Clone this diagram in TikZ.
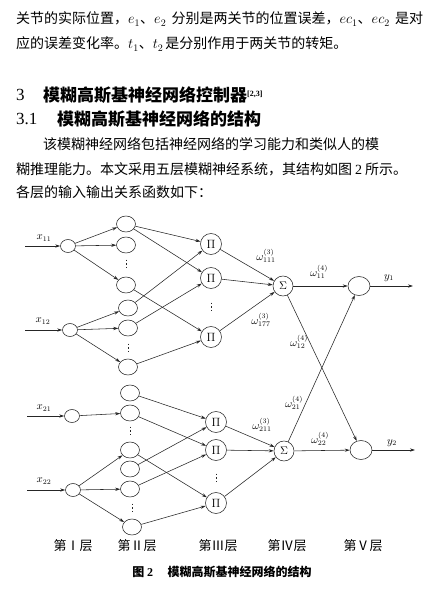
\documentclass[tikz,border=0pt]{standalone}
\usepackage{fontspec}
\setmainfont{Liberation Serif}
\newfontfamily\zh{Noto Sans CJK SC}
\usetikzlibrary{arrows.meta,shapes.geometric}
\XeTeXlinebreaklocale "zh"
\XeTeXlinebreakskip=0pt plus 4pt
\tikzset{
 ln/.style={line width=0.55pt, draw=black!85},
 ar/.style={ln, -{Stealth[length=5pt,width=3.2pt]}},
 inn/.style={ellipse, draw, ln, minimum width=15pt, minimum height=13pt, inner sep=0pt},
 mf/.style={ellipse, draw, ln, minimum width=19pt, minimum height=16pt, inner sep=0pt},
 pin/.style={circle, draw, ln, minimum size=21pt, inner sep=0pt, font=\fontsize{12}{12}\selectfont},
 sig/.style={circle, draw, ln, minimum size=20pt, inner sep=0pt, font=\fontsize{11}{11}\selectfont},
 outn/.style={ellipse, draw, ln, minimum width=22pt, minimum height=19pt, inner sep=0pt},
 lab/.style={inner sep=0pt, font=\fontsize{10.5}{11}\selectfont},
 dotmark/.style={line width=1pt, draw=black!85},
 txt/.style={inner sep=0pt, anchor=west, font=\fontsize{14}{16}\selectfont},
 hd/.style={inner sep=0pt, anchor=west, font=\fontsize{17}{20}\selectfont},
 layer/.style={inner sep=0pt, font=\fontsize{13}{14}\selectfont\zh},
}
\newcommand\vdotmark[3]{\coordinate (#1) at (#2,#3);
  \foreach \dy in {-3.6,0,3.6} \draw[dotmark] ([yshift=\dy pt+0.8pt]#1) -- ([yshift=\dy pt-0.8pt]#1);}
\begin{document}
\begin{tikzpicture}[x=1pt,y=-1pt]
\useasboundingbox (0,0) rectangle (443,590);
\fill[white] (0,0) rectangle (443,590);
% text
\node[txt] (l1) at (16,19) {\hbox to 407pt{\zh 关节的实际位置，$e_1$、$e_2$ 分别是两关节的位置误差，$ec_1$、$ec_2$ 是对}};
\node[txt] (l2) at (16,44) {\hbox to 317pt{\zh 应的误差变化率。$t_1$、$t_2$ 是分别作用于两关节的转矩。}};
\node[hd] (h1n) at (16,95) {3};
\node[hd] (h1) at (43,95) {\zh\bfseries 模糊高斯基神经网络控制器\raisebox{5pt}{\fontsize{8}{8}\selectfont\rmfamily[2,3]}};
\node[hd] (h2n) at (16,119) {3.1};
\node[hd] (h2) at (57,119) {\zh\bfseries 模糊高斯基神经网络的结构};
\node[txt] (p1) at (43,144) {\hbox to 380pt{\zh 该模糊神经网络包括神经网络的学习能力和类似人的模}};
\node[txt] (p2) at (16,169) {\hbox to 407pt{\zh 糊推理能力。本文采用五层模糊神经系统，其结构如图\hspace{3pt}{\rmfamily 2}\hspace{3pt}所示。}};
\node[txt] (p3) at (16,192) {\hbox to 205pt{\zh 各层的输入输出关系函数如下：}};
% layer I
\node[inn] (i1) at (68,246) {};
\node[inn] (i2) at (70,330) {};
\node[inn] (i3) at (72,416) {};
\node[inn] (i4) at (73,490) {};
\coordinate (c1) at (25,246);
\coordinate (c2) at (25,330);
\coordinate (c3) at (27,416);
\coordinate (c4) at (27,490);
\node[lab] (x1) at (44,238) {$x_{11}$};
\node[lab] (x2) at (43,321) {$x_{12}$};
\node[lab] (x3) at (44,408) {$x_{21}$};
\node[lab] (x4) at (44,481) {$x_{22}$};
% layer II
\node[mf] (a1) at (126,224) {};
\node[mf] (a2) at (126,245) {};
\vdotmark{ad1}{126}{264}
\node[mf] (a3) at (126,285) {};
\node[mf] (a4) at (128,308) {};
\node[mf] (a5) at (128,328) {};
\vdotmark{ad2}{128}{348}
\node[mf] (a6) at (128,367) {};
\node[mf] (b1) at (130,393) {};
\node[mf] (b2) at (130,413) {};
\vdotmark{bd1}{130}{431}
\node[mf] (b3) at (130,450) {};
\node[mf] (b4) at (130,469) {};
\node[mf] (b5) at (130,489) {};
\vdotmark{bd2}{132}{508}
\node[mf] (b6) at (132,527) {};
% layer III
\node[pin] (p1n) at (211,244) {$\Pi$};
\node[pin] (p2n) at (211,278) {$\Pi$};
\vdotmark{pd}{211}{307}
\node[pin] (p3n) at (211,337) {$\Pi$};
\node[pin] (q1) at (216,422) {$\Pi$};
\node[pin] (q2) at (216,450) {$\Pi$};
\vdotmark{qd}{216}{478}
\node[pin] (q3) at (216,503) {$\Pi$};
% layer IV
\node[sig] (s1) at (283,286) {$\Sigma$};
\node[sig] (s2) at (284,451) {$\Sigma$};
% layer V
\node[outn] (o1) at (359,286) {};
\node[outn] (o2) at (361,450) {};
\coordinate (e1) at (413,286);
\coordinate (e2) at (415,450);
% connectors
\draw[ar] (c1) -- (i1);
\draw[ar] (c2) -- (i2);
\draw[ar] (c3) -- (i3);
\draw[ar] (c4) -- (i4);
\foreach \t in {a1,a2,a3} \draw[ar] (i1) -- (\t);
\foreach \t in {a4,a5,a6} \draw[ar] (i2) -- (\t);
\draw[ar] (i3) -- (b2);
\foreach \t in {b3,b5,b6} \draw[ar] (i4) -- (\t);
\draw[ar] (a1) -- (p1n);
\draw[ar] (a1) -- (p2n);
\draw[ar] (a3) -- (p3n);
\draw[ar] (a4) -- (p1n);
\draw[ar] (a5) -- (p2n);
\draw[ar] (a6) -- (p3n);
\draw[ar] (b1) -- (q1);
\draw[ar] (b2) -- (q2);
\draw[ar] (b3) -- (q3);
\draw[ar] (b4) -- (q1);
\draw[ar] (b5) -- (q2);
\draw[ar] (b6) -- (q3);
\foreach \t in {p1n,p2n,p3n} \draw[ar] (\t) -- (s1);
\foreach \t in {q1,q2,q3} \draw[ar] (\t) -- (s2);
\draw[ar] (s1) -- (o1);
\draw[ar] (s1) -- (o2);
\draw[ar] (s2) -- (o1);
\draw[ar] (s2) -- (o2);
\draw[ar] (o1) -- (e1);
\draw[ar] (o2) -- (e2);
% labels
\node[lab] (w1) at (266,256) {$\omega^{(3)}_{111}$};
\node[lab] (w2) at (261,320) {$\omega^{(3)}_{177}$};
\node[lab] (w3) at (319,272) {$\omega^{(4)}_{11}$};
\node[lab] (w4) at (299,342) {$\omega^{(4)}_{12}$};
\node[lab] (w5) at (262,425) {$\omega^{(3)}_{211}$};
\node[lab] (w6) at (294,403) {$\omega^{(4)}_{21}$};
\node[lab] (w7) at (320,439) {$\omega^{(4)}_{22}$};
\node[lab] (y1) at (389,278) {$y_1$};
\node[lab] (y2) at (392,443) {$y_2$};
% layer names
\node[layer] (n1) at (73,546) {第Ⅰ层};
\node[layer] (n2) at (137,546) {第Ⅱ层};
\node[layer] (n3) at (218,546) {第Ⅲ层};
\node[layer] (n4) at (287,546) {第Ⅳ层};
\node[layer] (n5) at (363,546) {第Ⅴ层};
\node[inner sep=0pt, font=\fontsize{12}{13}\selectfont\zh\bfseries] (cap) at (222,572) {图 {\rmfamily\bfseries 2}\hspace{1.2em}模糊高斯基神经网络的结构};
\end{tikzpicture}
\end{document}
